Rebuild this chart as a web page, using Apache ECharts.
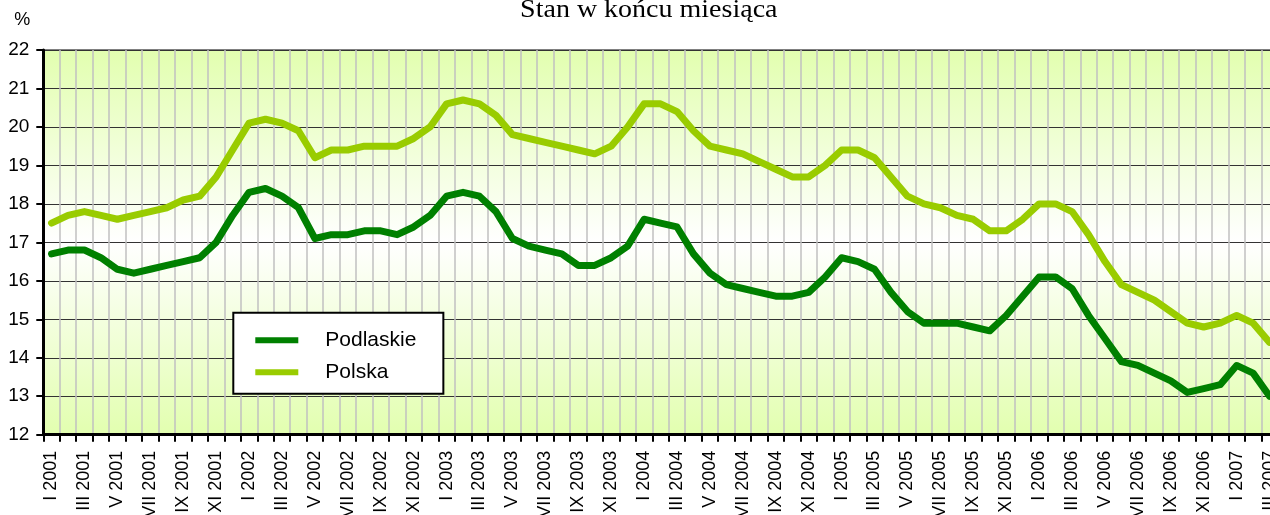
<!DOCTYPE html>
<html>
<head>
<meta charset="utf-8">
<script src="https://cdn.jsdelivr.net/npm/echarts@6/dist/echarts.min.js"></script>
<style>
html,body{margin:0;padding:0;background:#fff;}
#chart{width:1270px;height:515px;}
</style>
</head>
<body>
<div id="chart"></div>
<script>
// ---- data ----
const monthsRoman = ['I','II','III','IV','V','VI','VII','VIII','IX','X','XI','XII'];
const years = [2001, 2002, 2003, 2004, 2005, 2006, 2007];
const monthsIn2007 = 3;

const podlaskie = [
  16.7, 16.8, 16.8, 16.6, 16.3, 16.2, 16.3, 16.4, 16.5, 16.6, 17.0, 17.7,
  18.3, 18.4, 18.2, 17.9, 17.1, 17.2, 17.2, 17.3, 17.3, 17.2, 17.4, 17.7,
  18.2, 18.3, 18.2, 17.8, 17.1, 16.9, 16.8, 16.7, 16.4, 16.4, 16.6, 16.9,
  17.6, 17.5, 17.4, 16.7, 16.2, 15.9, 15.8, 15.7, 15.6, 15.6, 15.7, 16.1,
  16.6, 16.5, 16.3, 15.7, 15.2, 14.9, 14.9, 14.9, 14.8, 14.7, 15.1, 15.6,
  16.1, 16.1, 15.8, 15.1, 14.5, 13.9, 13.8, 13.6, 13.4, 13.1, 13.2, 13.3,
  13.8, 13.6, 13.0
];
const polska = [
  17.5, 17.7, 17.8, 17.7, 17.6, 17.7, 17.8, 17.9, 18.1, 18.2, 18.7, 19.4,
  20.1, 20.2, 20.1, 19.9, 19.2, 19.4, 19.4, 19.5, 19.5, 19.5, 19.7, 20.0,
  20.6, 20.7, 20.6, 20.3, 19.8, 19.7, 19.6, 19.5, 19.4, 19.3, 19.5, 20.0,
  20.6, 20.6, 20.4, 19.9, 19.5, 19.4, 19.3, 19.1, 18.9, 18.7, 18.7, 19.0,
  19.4, 19.4, 19.2, 18.7, 18.2, 18.0, 17.9, 17.7, 17.6, 17.3, 17.3, 17.6,
  18.0, 18.0, 17.8, 17.2, 16.5, 15.9, 15.7, 15.5, 15.2, 14.9, 14.8, 14.9,
  15.1, 14.9, 14.4
];
const seriesNames = ['Podlaskie', 'Polska'];
const yTicks = { min: 12, max: 22, step: 1 };
const titleText = 'Stan w końcu miesiąca';
const unitText = '%';

// ---- categories ----
const categories = [];
years.forEach(y => {
  const n = (y === 2007) ? monthsIn2007 : 12;
  for (let m = 0; m < n; m++) categories.push(monthsRoman[m] + ' ' + y);
});

const SANS = '"Liberation Sans", Arial, sans-serif';
const SERIF = '"Liberation Serif", "Times New Roman", serif';

const chart = echarts.init(document.getElementById('chart'), null, {renderer: 'canvas'});
chart.setOption({
  animation: false,
  backgroundColor: '#ffffff',
  grid: {
    left: 43.3, top: 50, right: -7.8, bottom: 80.3,
    containLabel: false,
    outerBoundsMode: 'none',
    show: true,
    borderColor: '#808080', borderWidth: 2,
    backgroundColor: {
      type: 'linear', x: 0, y: 0, x2: 0, y2: 1,
      colorStops: [
        {offset: 0, color: '#E2FFAF'},
        {offset: 0.5, color: '#FFFFFF'},
        {offset: 1, color: '#E2FFAF'}
      ]
    }
  },
  graphic: [
    {
      type: 'text', x: 648.8, y: 10.5, scaleX: 1.12, z: 10,
      style: {text: titleText, font: '25px ' + SERIF, fill: '#000',
              textAlign: 'center', textVerticalAlign: 'middle'}
    },
    {
      type: 'text', x: 22.3, y: 20, z: 10,
      style: {text: unitText, font: '18px ' + SANS, fill: '#000',
              textAlign: 'center', textVerticalAlign: 'middle'}
    }
  ],
  legend: {
    orient: 'vertical',
    left: 233.3, top: 312.7,
    backgroundColor: '#ffffff',
    borderColor: '#000', borderWidth: 2,
    padding: [17, 27, 11, 22],
    itemWidth: 43, itemHeight: 6, itemGap: 11,
    icon: 'rect',
    textStyle: {fontSize: 21, fontFamily: SANS, color: '#000', padding: [0, 0, 0, 22]},
    data: seriesNames
  },
  xAxis: {
    type: 'category',
    data: categories,
    boundaryGap: true,
    axisLine: {lineStyle: {color: '#000', width: 3}},
    axisTick: {show: true, interval: 0, length: 7, lineStyle: {color: '#000', width: 2}},
    axisLabel: {interval: 1, rotate: 90, margin: 16, fontSize: 18, fontFamily: SANS, color: '#000',
                hideOverlap: false, showMinLabel: true, showMaxLabel: true},
    splitLine: {show: true, interval: 0, lineStyle: {color: '#C0C0C0', width: 1.5}}
  },
  yAxis: {
    type: 'value',
    min: yTicks.min, max: yTicks.max, interval: yTicks.step,
    axisLine: {show: true, lineStyle: {color: '#000', width: 3}},
    axisTick: {show: true, length: 7, lineStyle: {color: '#000', width: 2}},
    axisLabel: {margin: 14, fontSize: 19, fontFamily: SANS, color: '#000'},
    splitLine: {show: true, lineStyle: {color: '#333', width: 1}}
  },
  series: [
    {
      name: seriesNames[0], type: 'line', data: podlaskie,
      symbol: 'none', color: '#008000',
      lineStyle: {width: 7, color: '#008000', cap: 'round', join: 'round'}
    },
    {
      name: seriesNames[1], type: 'line', data: polska,
      symbol: 'none', color: '#99CC00',
      lineStyle: {width: 7, color: '#99CC00', cap: 'round', join: 'round'}
    }
  ]
});
</script>
</body>
</html>
